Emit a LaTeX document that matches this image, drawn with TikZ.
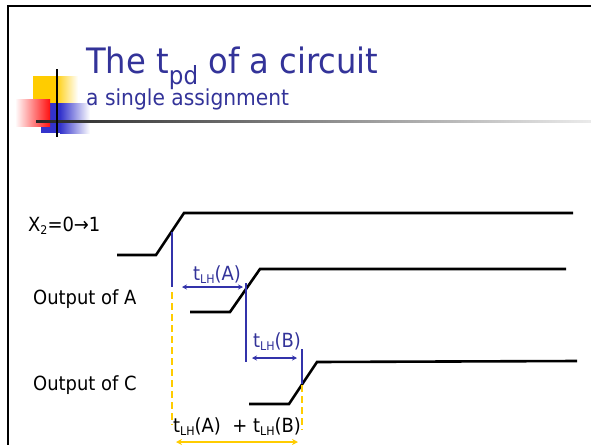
\documentclass[tikz,border=0pt]{standalone}
\usepackage{fontspec}
\setmainfont[FakeStretch=0.92]{DejaVu Sans}
\usetikzlibrary{arrows.meta}
\definecolor{tblue}{HTML}{333399}
\definecolor{lblue}{HTML}{3333AA}
\definecolor{tyel}{HTML}{FFCC00}
\definecolor{tred}{HTML}{FF1010}
\definecolor{bblue}{HTML}{3333CC}
\newcommand{\sbs}[1]{\raisebox{-3pt}{\fontsize{12}{12}\selectfont #1}}
\begin{document}
\begin{tikzpicture}[x=1pt,y=-1pt,
  wave/.style={line width=2.6pt,line join=miter},
  bline/.style={draw=lblue,line width=1.5pt},
  yline/.style={draw=tyel,line width=1.6pt,dash pattern=on 7pt off 4pt},
  barrow/.style={draw=lblue,line width=1.2pt,{Stealth[length=5pt,width=5pt]}-{Stealth[length=5pt,width=5pt]}},
  yarrow/.style={draw=tyel,line width=1.8pt,{Stealth[length=6pt,width=6pt]}-{Stealth[length=6pt,width=6pt]}},
  lab/.style={anchor=base west,inner sep=0pt,font=\fontsize{19.5}{19.5}\selectfont},
  blab/.style={lab,text=tblue}]
\useasboundingbox (0,0) rectangle (591,444);
% frame
\draw[line width=2.5pt] (8,460) -- (8,6) -- (600,6);
% logo
\fill[tyel] (33,76) rectangle (55,104);
\shade[left color=tyel,right color=white] (55,76) rectangle (78,104);
\fill[bblue] (41,103) rectangle (60,133);
\shade[left color=bblue,right color=white] (60,103) rectangle (90,133);
\shade[left color=white,right color=tred] (15,99) rectangle (50,126);
\shade[left color=black!85,right color=black!8] (36,120) rectangle (591,122.5);
\draw[line width=1.4pt] (57,69) -- (57,137);
% title
\node[anchor=base west,inner sep=0pt,text=tblue] (title) at (86,74)
  {\fontsize{35}{35}\selectfont The t\raisebox{-10pt}{\fontsize{25}{25}\selectfont pd} of a circuit};
\node[anchor=base west,inner sep=0pt,text=tblue] (sub) at (86,105)
  {\fontsize{22}{22}\selectfont a single assignment};
% row labels
\node[lab] (lx) at (28,231) {X\sbs{2}=0→1};
\node[lab] (la) at (33,304) {Output of A};
\node[lab] (lc) at (33,390) {Output of C};
% waveforms
\coordinate (x0) at (117,255); \coordinate (x1) at (156,255);
\coordinate (x2) at (184,213); \coordinate (x3) at (573,213);
\coordinate (a0) at (190,312); \coordinate (a1) at (230,312);
\coordinate (a2) at (260,269); \coordinate (a3) at (566,269);
\coordinate (c0) at (249,404); \coordinate (c1) at (289,404);
\coordinate (c2) at (317,362); \coordinate (c3) at (577,361);
\draw[wave] (x0) -- (x1) -- (x2) -- (x3);
\draw[wave] (a0) -- (a1) -- (a2) -- (a3);
\draw[wave] (c0) -- (c1) -- (c2) -- (c3);
% blue markers
\coordinate (b1t) at (172,232); \coordinate (b1b) at (172,287);
\coordinate (b2t) at (246,283); \coordinate (b2b) at (246,362);
\coordinate (b3t) at (302,349); \coordinate (b3b) at (302,384);
\draw[bline] (b1t) -- (b1b);
\draw[bline] (b2t) -- (b2b);
\draw[bline] (b3t) -- (b3b);
% yellow dashed
\coordinate (y1t) at (172,292); \coordinate (y1b) at (172,425);
\coordinate (y2t) at (302,385); \coordinate (y2b) at (302,430);
\draw[yline] (y1t) -- (y1b);
\draw[yline] (y2t) -- (y2b);
% arrows
\coordinate (aA1) at (182,287); \coordinate (aA2) at (243,287);
\coordinate (aB1) at (252,358); \coordinate (aB2) at (297,358);
\coordinate (aS1) at (176,442); \coordinate (aS2) at (298,442);
\draw[barrow] (aA1) -- (aA2);
\draw[barrow] (aB1) -- (aB2);
\draw[yarrow] (aS1) -- (aS2);
% arrow labels
\node[blab] (tA) at (193,280) {t\sbs{LH}(A)};
\node[blab] (tB) at (253,347) {t\sbs{LH}(B)};
\node[lab] (tS) at (173,432) {t\sbs{LH}(A)\ \ + t\sbs{LH}(B)};
\end{tikzpicture}
\end{document}
